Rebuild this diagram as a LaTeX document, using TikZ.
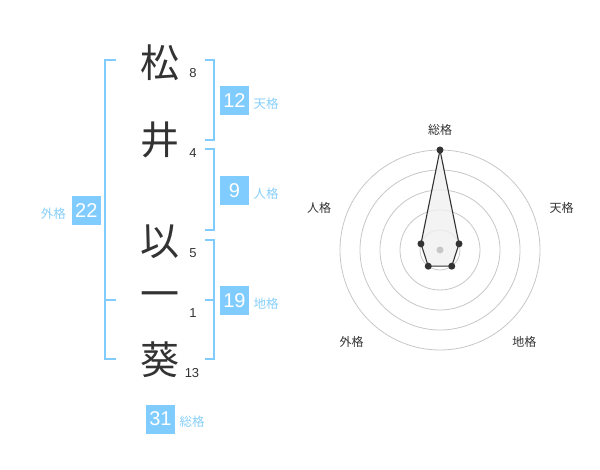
\documentclass[tikz,border=0pt]{standalone}
\usepackage{fontspec}
\setmainfont{Liberation Sans}
\newfontfamily\jp{Noto Sans CJK JP}
\definecolor{boxblue}{RGB}{128,204,255}
\definecolor{lblblue}{RGB}{135,207,250}
\definecolor{ink}{RGB}{51,51,51}
\begin{document}
\begin{tikzpicture}[x=1pt,y=-1pt,
  kanji/.style={font=\jp\fontsize{39}{39}\selectfont, text=ink, inner sep=0},
  strokes/.style={font=\fontsize{13}{13}\selectfont, text=ink, inner sep=0},
  valbox/.style={fill=boxblue, text=white, minimum size=29pt, inner sep=0, font=\fontsize{20}{20}\selectfont},
  lbl/.style={font=\jp\fontsize{12.5}{12.5}\selectfont, text=lblblue, inner sep=0},
  brk/.style={draw=boxblue, line width=1.8pt},
  rlbl/.style={font=\jp\fontsize{12}{12}\selectfont, text=ink, inner sep=0},
  ring/.style={draw=black!22, line width=0.8pt},
  dot/.style={circle, fill=ink, minimum size=7pt, inner sep=0},
]
\useasboundingbox (0,0) rectangle (600,470);

% brackets
\draw[brk] (116,60) -- (105,60) -- (105,359) -- (116,359);
\draw[brk] (105,300) -- (116,300);
\draw[brk] (205,60) -- (214,60) -- (214,140) -- (205,140);
\draw[brk] (205,149) -- (214,149) -- (214,230) -- (205,230);
\draw[brk] (205,240) -- (214,240) -- (214,359) -- (205,359);
\draw[brk] (205,300) -- (214,300);

% kanji
\node[kanji] (k1) at (160,63) {松};
\node[kanji] (k2) at (160,140) {井};
\node[kanji] (k3) at (160,242) {以};
\node[kanji] (k4) at (160,300) {一};
\node[kanji] (k5) at (160,360) {葵};

% stroke counts
\node[strokes] (s1) at (193,73) {8};
\node[strokes] (s2) at (193,153) {4};
\node[strokes] (s3) at (193,253) {5};
\node[strokes] (s4) at (193,313) {1};
\node[strokes] (s5) at (192,373) {13};

% value boxes
\node[valbox] (ten) at (234.5,100.5) {12};
\node[valbox] (jin) at (234.5,190.5) {9};
\node[valbox] (gai) at (86.3,210.5) {22};
\node[valbox] (chi) at (234.5,300.5) {19};
\node[valbox] (sou) at (160.5,419) {31};

\node[lbl] (tenL) at (266,104) {天格};
\node[lbl] (jinL) at (266,194) {人格};
\node[lbl] (gaiL) at (53.3,213.3) {外格};
\node[lbl] (chiL) at (266,304) {地格};
\node[lbl] (souL) at (192,422) {総格};

% radar
\coordinate (c) at (440,250);
\foreach \r in {20,40,60,80,100} \draw[ring] (c) circle[radius=\r];
\coordinate (p1) at ([shift={(c)}]-90:100);
\coordinate (p2) at ([shift={(c)}]-18:20);
\coordinate (p3) at ([shift={(c)}]54:20);
\coordinate (p4) at ([shift={(c)}]126:20);
\coordinate (p5) at ([shift={(c)}]198:20);
\draw[fill=black!6, fill opacity=0.8, draw=ink, line width=1.1pt] (p1) -- (p2) -- (p3) -- (p4) -- (p5) -- cycle;
\fill[black!22] (c) circle[radius=3.5];
\foreach \p in {p1,p2,p3,p4,p5} \node[dot] at (\p) {};

\node[rlbl] (r1) at (440,130) {総格};
\node[rlbl] (r2) at (561.7,208.3) {天格};
\node[rlbl] (r3) at (524.3,341.7) {地格};
\node[rlbl] (r4) at (351.7,341.7) {外格};
\node[rlbl] (r5) at (319,208.3) {人格};
\end{tikzpicture}
\end{document}
